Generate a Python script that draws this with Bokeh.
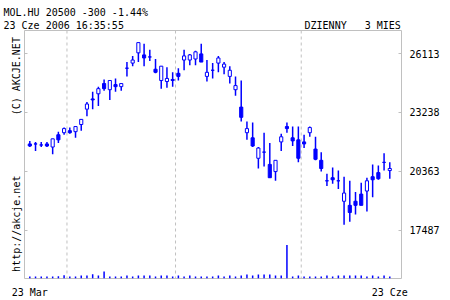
import pandas as pd
from bokeh.plotting import figure
from bokeh.models import Range1d, LinearAxis, FixedTicker, Span, Title, ColumnDataSource
from bokeh.embed import file_html
from bokeh.resources import INLINE

# ---------------- data ----------------
ticker_name = "MOL.HU"
last_close = 20500
change = -300
change_pct = -1.44
timestamp = "23 Cze 2006 16:35:55"
period_label = "DZIENNY   3 MIES"
first_date_label = "23 Mar"
last_date_label = "23 Cze"
copyright_text = "(C) AKCJE.NET"
url_text = "http://akcje.net"

opens = [21700, 21700, 21650, 21700, 21550, 22150, 22250, 22350, 22300, 22650,
         23400, 23900, 24150, 24650, 24350, 24600, 24500, 25400, 25650, 26150,
         26050, 25950, 25350, 24800, 24750, 24850, 25150, 25800, 25800, 25850,
         26100, 25000, 25300, 25650, 25450, 25000, 24350, 23500, 22250, 22000,
         21000, 21300, 20700, 20350, 21800, 22550, 22000, 21900, 21800, 22250,
         21450, 20900, 19900, 20050, 19900, 18900, 18700, 18900, 19250, 19400,
         20100, 20300, 20800, 20400]
highs = [21850, 21800, 21800, 21800, 21950, 22300, 22500, 22500, 22550, 22900,
         23750, 24250, 24500, 24850, 24800, 24900, 24650, 25700, 26000, 26650,
         26600, 26300, 25850, 25500, 25450, 25200, 25400, 26300, 26100, 26250,
         26600, 25800, 25650, 26000, 25700, 25500, 25000, 24800, 22800, 22750,
         21550, 22250, 21750, 20900, 22200, 22750, 22550, 22550, 22150, 22550,
         22050, 21300, 20250, 20550, 20400, 20100, 19900, 19350, 19800, 20050,
         20700, 20650, 21250, 20800]
lows = [21550, 21350, 21550, 21550, 21200, 21750, 22150, 22200, 22000, 22350,
        23050, 23400, 23550, 24300, 23850, 24250, 24300, 25000, 25500, 25700,
        25500, 25750, 25150, 24400, 24450, 24500, 24800, 25300, 25550, 25550,
        25700, 24750, 24900, 25200, 25100, 24650, 24050, 22800, 21900, 21550,
        20500, 20600, 20050, 19900, 21350, 22250, 21600, 20800, 21500, 22050,
        20900, 20350, 19650, 19750, 19500, 17750, 17900, 18250, 18700, 18400,
        19100, 19950, 20400, 20000]
closes = [21600, 21700, 21650, 21600, 21950, 21900, 22450, 22250, 22550, 22900,
          23650, 23850, 24400, 24400, 24800, 24500, 24650, 25400, 25800, 26650,
          25900, 25950, 25200, 25500, 24900, 24800, 25000, 26000, 26050, 26200,
          25700, 25200, 25300, 25900, 25600, 25300, 24550, 23000, 22450, 21600,
          21500, 21300, 20050, 20900, 22050, 22450, 21850, 21000, 21700, 22500,
          20950, 20500, 19900, 19950, 19900, 19300, 18350, 18700, 18700, 19900,
          19950, 20000, 20800, 20500]
volumes = [420, 410, 430, 420, 440, 480, 700, 420, 430, 640,
           650, 910, 630, 1480, 420, 430, 420, 640, 430, 650,
           630, 640, 420, 660, 630, 420, 640, 430, 620, 430,
           440, 420, 430, 640, 420, 650, 430, 660, 860, 640,
           850, 870, 840, 630, 650, 7150, 430, 620, 420, 430,
           440, 420, 640, 430, 650, 640, 660, 630, 640, 420,
           650, 430, 640, 420]

price_ticks = [17487, 20363, 23238, 26113]
holidays = ["2006-04-17", "2006-05-01", "2006-06-05"]

# ---------------- derived ----------------
days = pd.bdate_range("2006-03-23", "2006-06-23")
days = days[~days.isin(pd.to_datetime(holidays))]
n = len(opens)
idx = list(range(n))
month_bounds = [i - 0.5 for i in range(1, len(days)) if days[i].month != days[i - 1].month]

BLUE = "#0000FF"
GREY = "#C0C0C0"
FONT = "DejaVu Sans Mono"
NB = "\u00a0"

src = ColumnDataSource(dict(
    x=idx, o=opens, h=highs, l=lows, c=closes, v=volumes,
    top=[max(a, b) for a, b in zip(opens, closes)],
    bot=[min(a, b) for a, b in zip(opens, closes)],
    fill=["white" if c > o else BLUE for o, c in zip(opens, closes)],
))

p = figure(width=450, height=300, output_backend="svg", toolbar_location=None,
           x_range=Range1d(-0.93, 65.05), y_range=Range1d(15127, 27242),
           x_axis_location=None, y_axis_location=None, title=None,
           min_border_left=24, min_border_right=49, min_border_top=30, min_border_bottom=20)
p.background_fill_color = "white"
p.border_fill_color = "white"
p.outline_line_color = GREY
p.outline_line_width = 1
p.grid.visible = False

for b in month_bounds:
    p.add_layout(Span(location=b, dimension="height", line_color=GREY,
                      line_dash="3 3", line_width=1, level="underlay"))

p.extra_y_ranges = {"vol": Range1d(0, 53000)}
p.segment(x0="x", y0=0, x1="x", y1="v", source=src, y_range_name="vol",
          line_color=BLUE, line_width=1.5)

p.segment(x0="x", y0="l", x1="x", y1="h", source=src, line_color=BLUE, line_width=1.5)
p.vbar(x="x", width=0.55, top="top", bottom="bot", source=src,
       fill_color="fill", line_color=BLUE, line_width=1)

# right price axis
yax = LinearAxis(ticker=FixedTicker(ticks=price_ticks),
                 major_label_overrides={t: str(t) for t in price_ticks})
yax.axis_line_color = None
yax.major_tick_in = 3
yax.major_tick_out = 0
yax.major_tick_line_color = GREY
yax.minor_tick_line_color = None
yax.major_label_text_font = FONT
yax.major_label_text_font_size = "10px"
yax.major_label_text_color = "black"
yax.major_label_standoff = 8
p.add_layout(yax, "right")

# left tick marks only
lax = LinearAxis(ticker=FixedTicker(ticks=price_ticks),
                 major_label_overrides={t: "" for t in price_ticks})
lax.axis_line_color = None
lax.major_tick_in = 3
lax.major_tick_out = 0
lax.major_tick_line_color = GREY
lax.minor_tick_line_color = None
lax.major_label_text_font_size = "0px"
lax.major_label_standoff = 0
p.add_layout(lax, "left")

# date axis
xax = LinearAxis(ticker=FixedTicker(ticks=[0, n - 1]),
                 major_label_overrides={0: first_date_label, n - 1: last_date_label})
xax.axis_line_color = None
xax.major_tick_line_color = None
xax.minor_tick_line_color = None
xax.major_tick_in = 0
xax.major_tick_out = 0
xax.major_label_text_font = FONT
xax.major_label_text_font_size = "10px"
xax.major_label_text_color = "black"
xax.major_label_standoff = 8
p.add_layout(xax, "below")

# header lines (titles, stacked outward from the frame)
tstyle = dict(text_font=FONT, text_font_size="10px", text_font_style="normal",
              text_color="black")
header1 = f"{ticker_name} {last_close} {change} {change_pct:.2f}%"
header2 = timestamp + NB * 30 + period_label
p.add_layout(Title(text=header2.replace(" ", NB), align="left", offset=-21,
                   standoff=0, **tstyle), "above")
p.add_layout(Title(text=header1.replace(" ", NB), align="left", offset=-21,
                   standoff=0, **tstyle), "above")

# vertical side text
side = url_text + NB * 10 + copyright_text.replace(" ", NB)
p.add_layout(Title(text=side, align="center", standoff=6, **tstyle), "left")

open("out.html", "w").write(file_html(p, INLINE))
